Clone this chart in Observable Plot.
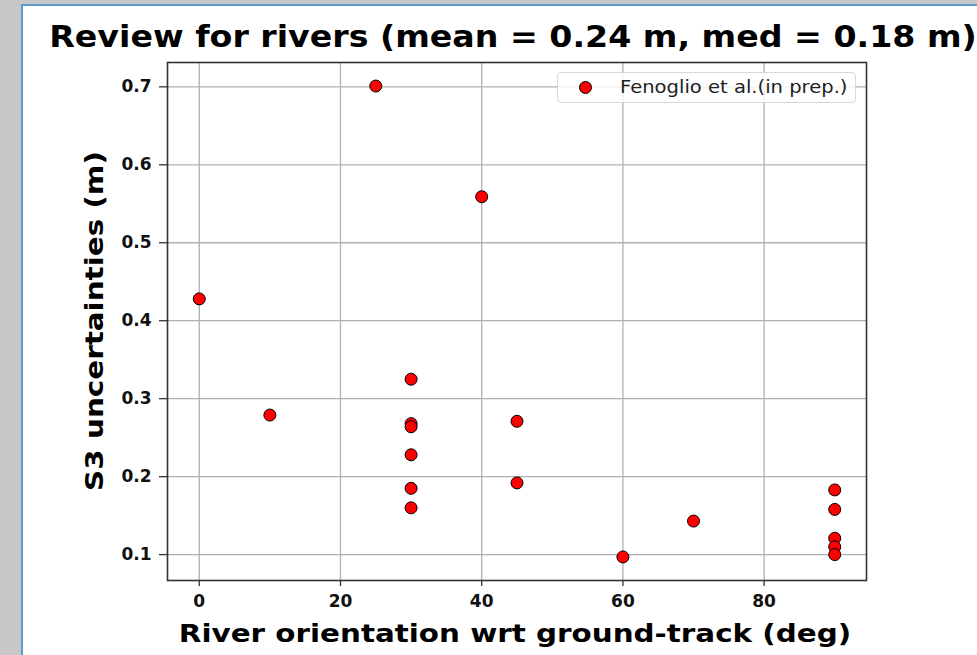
<!DOCTYPE html>
<html>
<head>
<meta charset="utf-8">
<script src="https://cdn.jsdelivr.net/npm/d3@7"></script>
<script src="https://cdn.jsdelivr.net/npm/@observablehq/plot@0.6"></script>
<style>
  html, body { margin: 0; padding: 0; }
  body { width: 977px; height: 655px; background: #c8c8c8; position: relative; overflow: hidden; font-family: "DejaVu Sans", sans-serif; }
  #panel { position: absolute; left: 21px; top: 4px; right: 0; bottom: 0; background: #fff; border-left: 2px solid #5a9bd0; border-top: 2px solid #5a9bd0; }
  .lbl { position: absolute; font-weight: bold; color: #000; white-space: nowrap; line-height: 1; }
  #title { left: 513px; top: 37px; font-size: 30px; transform: translate(-50%, -50%) scaleX(1.107); }
  #ylabel { left: 95px; top: 321px; font-size: 24px; transform: translate(-50%, -50%) rotate(-90deg) scaleX(1.225); }
  #xlabel { left: 515px; top: 633px; font-size: 25px; transform: translate(-50%, -50%) scaleX(1.175); }
  #chart { position: absolute; left: 0; top: 55px; }
  #legend { position: absolute; left: 557px; top: 72px; width: 299px; height: 31px; border: 1px solid #d8d8d8; border-radius: 4px; background: rgba(255,255,255,0.8); box-sizing: border-box; }
  #legend .dot { position: absolute; left: 21px; top: 8px; width: 11px; height: 11px; border-radius: 50%; background: #ff0000; border: 1px solid #000; }
  #legend .lab { position: absolute; left: 62px; top: 14px; font-size: 17px; color: #222; white-space: nowrap; line-height: 1; transform-origin: left center; transform: translateY(-50%) scaleX(1.15); }
</style>
</head>
<body>
<div id="panel"></div>
<div id="chart"></div>
<div id="title" class="lbl"></div>
<div id="ylabel" class="lbl"></div>
<div id="xlabel" class="lbl"></div>
<div id="legend"><div class="dot"></div><div class="lab"></div></div>
<script>
const titleText = "Review for rivers (mean = 0.24 m, med = 0.18 m)";
const xLabel = "River orientation wrt ground-track (deg)";
const yLabel = "S3 uncertainties (m)";
const seriesName = "Fenoglio et al.(in prep.)";

const orientation = [0, 10, 25, 40, 30, 30, 30, 30, 30, 30, 45, 45, 60, 70, 90, 90, 90, 90, 90];
const uncertainty = [0.428, 0.279, 0.701, 0.559, 0.325, 0.268, 0.264, 0.228, 0.185, 0.160, 0.271, 0.192, 0.097, 0.143, 0.183, 0.158, 0.121, 0.110, 0.100];

const xTicks = [0, 20, 40, 60, 80];
const yTicks = [0.1, 0.2, 0.3, 0.4, 0.5, 0.6, 0.7];

const data = orientation.map((x, i) => ({x, y: uncertainty[i]}));

document.getElementById("title").textContent = titleText;
document.getElementById("ylabel").textContent = yLabel;
document.getElementById("xlabel").textContent = xLabel;
document.querySelector("#legend .lab").textContent = seriesName;

const chart = Plot.plot({
  width: 977,
  height: 600,
  marginLeft: 167,
  marginRight: 111,
  marginTop: 7,
  marginBottom: 75,
  style: {background: "transparent", fontFamily: "DejaVu Sans, sans-serif"},
  x: {domain: [-4.5, 94.5]},
  y: {domain: [0.0668, 0.7312]},
  marks: [
    Plot.gridX(xTicks, {stroke: "#b0b0b0", strokeOpacity: 1, strokeWidth: 1.3}),
    Plot.gridY(yTicks, {stroke: "#b0b0b0", strokeOpacity: 1, strokeWidth: 1.3}),
    Plot.axisX(xTicks, {tickSize: 6, tickPadding: 8, fontSize: 17, fontWeight: "bold", label: null, stroke: "#333", strokeWidth: 1.3, fill: "#111", tickFormat: d => String(d)}),
    Plot.axisY(yTicks, {tickSize: 8, tickPadding: 8, fontSize: 17, fontWeight: "bold", label: null, stroke: "#333", strokeWidth: 1.3, fill: "#111", tickFormat: d => d.toFixed(1)}),
    Plot.frame({stroke: "#333", strokeWidth: 1.6}),
    Plot.dot(data, {x: "x", y: "y", r: 6, fill: "#ff0000", stroke: "#000", strokeWidth: 1})
  ]
});
document.getElementById("chart").appendChild(chart);
</script>
</body>
</html>
